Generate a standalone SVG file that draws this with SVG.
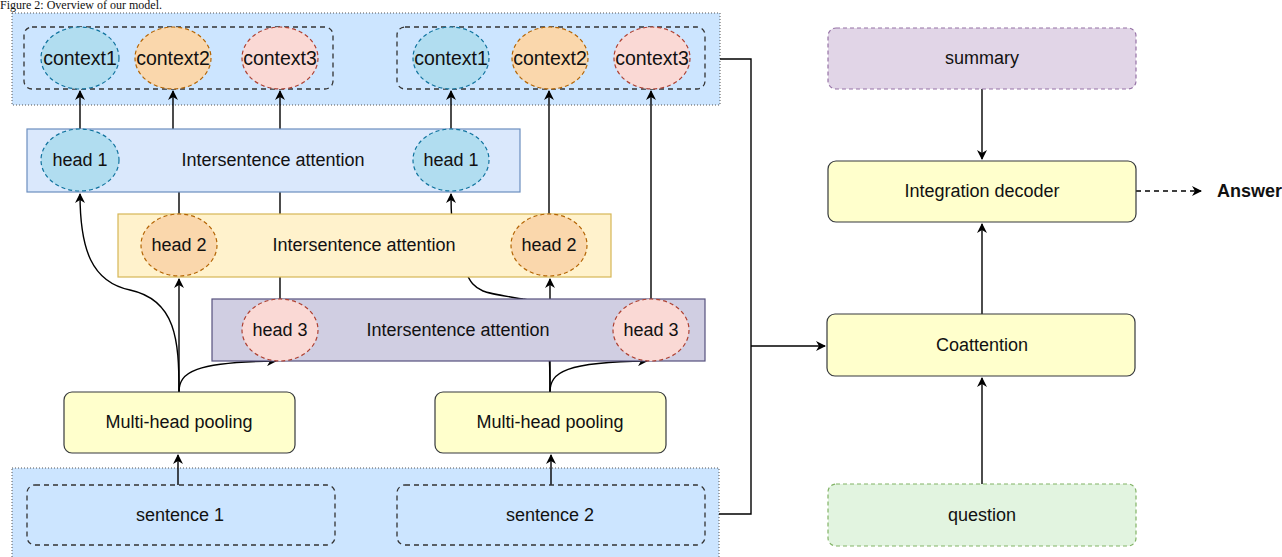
<svg xmlns="http://www.w3.org/2000/svg" width="1282" height="557" viewBox="0 0 1282 557">
<defs>
<marker id="ah" viewBox="0 0 10 10" refX="9" refY="5" markerWidth="10" markerHeight="10" markerUnits="userSpaceOnUse" orient="auto">
<path d="M0,0 L10,5 L0,10 L3,5 Z" fill="#000"/>
</marker>
<style>
text{font-family:"Liberation Sans",Arial,Helvetica,sans-serif;font-size:18px;fill:#111;text-anchor:middle}
.ctx{font-size:19.5px}
.cont{fill:#cce5ff;stroke:#555;stroke-width:1;stroke-dasharray:1 2}
.grp{fill:none;stroke:#333;stroke-width:1.3;stroke-dasharray:5 4}
.e1{fill:#b1ddf0;stroke:#10739e;stroke-width:1.2;stroke-dasharray:4 3}
.e2{fill:#fad7ac;stroke:#b46504;stroke-width:1.2;stroke-dasharray:4 3}
.e3{fill:#fad9d5;stroke:#ae4132;stroke-width:1.2;stroke-dasharray:4 3}
.b1{fill:#dae8fc;stroke:#6c8ebf;stroke-width:1.2}
.b2{fill:#fff2cc;stroke:#d6b656;stroke-width:1.2}
.b3{fill:#d0cee2;stroke:#56517e;stroke-width:1.2}
.y{fill:#ffffcc;stroke:#36393d;stroke-width:1.2}
.c{fill:none;stroke:#000;stroke-width:1.4}
</style>
</defs>
<text x="0" y="9" style="font-family:'Liberation Serif','Times New Roman',serif;font-size:12px;text-anchor:start">Figure 2: Overview of our model.</text>

<g id="context-container">
<rect class="cont" x="12" y="13" width="708" height="92"/>
</g>
<g id="sentence-container"><rect class="cont" x="12" y="468" width="707" height="95"/></g>

<g id="connectors">
<path class="c" d="M80,129 V91" marker-end="url(#ah)"/>
<path class="c" d="M179,214 V160 H173 V91" marker-end="url(#ah)"/>
<path class="c" d="M280,299 V91" marker-end="url(#ah)"/>
<path class="c" d="M451,129 V91" marker-end="url(#ah)"/>
<path class="c" d="M549,214 V91" marker-end="url(#ah)"/>
<path class="c" d="M651,299 L651,91" marker-end="url(#ah)"/>
<path class="c" d="M179,392 C179,340 176,300 130,290 C92,282 80,250 80,194" marker-end="url(#ah)"/>
<path class="c" d="M179,392 V279" marker-end="url(#ah)"/>
<path class="c" d="M179,392 C179,372 195,362 276,361" marker-end="url(#ah)"/>
<path class="c" d="M550,392 V279" marker-end="url(#ah)"/>
<path class="c" d="M550,392 C550,372 566,362 647,361" marker-end="url(#ah)"/>
<path class="c" d="M550,392 C550,320 545,302 523,299 C505,296 490,294 483,291 C474,287 470,282 466,272 C455,250 451,235 451,194" marker-end="url(#ah)"/>
<path class="c" d="M178,485 V455" marker-end="url(#ah)"/>
<path class="c" d="M551,485 V455" marker-end="url(#ah)"/>
<path class="c" d="M720,59 H751 V514 H719"/>
<path class="c" d="M751,346 H825" marker-end="url(#ah)"/>
<path class="c" d="M982,484 V378" marker-end="url(#ah)"/>
<path class="c" d="M982,314 V224" marker-end="url(#ah)"/>
<path class="c" d="M982,89 V159" marker-end="url(#ah)"/>
<path class="c" d="M1136,191 H1201" stroke-dasharray="5 4" marker-end="url(#ah)"/>
</g>

<g id="context-group-1">
<rect class="grp" x="24" y="27" width="309" height="62" rx="8"/>
</g>
<g id="context-group-2">
<rect class="grp" x="397" y="27" width="308" height="62" rx="8"/>
</g>
<g id="context1-a"><ellipse class="e1" cx="80" cy="58" rx="39" ry="31"/><text class="ctx" x="80" y="65">context1</text></g>
<g id="context2-a"><ellipse class="e2" cx="173" cy="58" rx="38" ry="31"/><text class="ctx" x="173" y="65">context2</text></g>
<g id="context3-a"><ellipse class="e3" cx="280" cy="58" rx="38" ry="31"/><text class="ctx" x="280" y="65">context3</text></g>
<g id="context1-b"><ellipse class="e1" cx="451" cy="58" rx="38" ry="31"/><text class="ctx" x="451" y="65">context1</text></g>
<g id="context2-b"><ellipse class="e2" cx="550" cy="58" rx="38" ry="31"/><text class="ctx" x="550" y="65">context2</text></g>
<g id="context3-b"><ellipse class="e3" cx="652" cy="58" rx="38" ry="31"/><text class="ctx" x="652" y="65">context3</text></g>

<g id="attention-1">
<rect class="b1" x="27" y="129" width="493" height="63"/>
<text x="273" y="166">Intersentence attention</text>
</g>
<g id="head1-a"><ellipse class="e1" cx="80" cy="160" rx="39" ry="31"/><text x="80" y="166">head 1</text></g>
<g id="head1-b"><ellipse class="e1" cx="451" cy="160" rx="38" ry="31"/><text x="451" y="166">head 1</text></g>

<g id="attention-2">
<rect class="b2" x="118" y="214" width="493" height="63"/>
<text x="364" y="251">Intersentence attention</text>
</g>
<g id="head2-a"><ellipse class="e2" cx="179" cy="245" rx="38" ry="31"/><text x="179" y="251">head 2</text></g>
<g id="head2-b"><ellipse class="e2" cx="549" cy="245" rx="38" ry="31"/><text x="549" y="251">head 2</text></g>

<g id="attention-3">
<rect class="b3" x="212" y="299" width="493" height="62"/>
<text x="458" y="336">Intersentence attention</text>
</g>
<g id="head3-a"><ellipse class="e3" cx="280" cy="330" rx="38" ry="31"/><text x="280" y="336">head 3</text></g>
<g id="head3-b"><ellipse class="e3" cx="651" cy="330" rx="38" ry="31"/><text x="651" y="336">head 3</text></g>

<g id="pooling-1"><rect class="y" x="64" y="392" width="231" height="61" rx="8"/><text x="179" y="428">Multi-head pooling</text></g>
<g id="pooling-2"><rect class="y" x="435" y="392" width="231" height="61" rx="8"/><text x="550" y="428">Multi-head pooling</text></g>

<g id="sentence-1"><rect class="grp" x="27" y="485" width="308" height="60" rx="8"/><text x="180" y="521">sentence 1</text></g>
<g id="sentence-2"><rect class="grp" x="397" y="485" width="308" height="60" rx="8"/><text x="550" y="521">sentence 2</text></g>

<g id="summary"><rect x="828" y="28" width="308" height="61" rx="8" fill="#e1d5e7" stroke="#9673a6" stroke-width="1.2" stroke-dasharray="4 3"/><text x="982" y="64">summary</text></g>
<g id="decoder"><rect class="y" x="828" y="161" width="308" height="61" rx="8"/><text x="982" y="197">Integration decoder</text></g>
<g id="answer"><text x="1217" y="197" style="text-anchor:start;font-weight:bold">Answer</text></g>
<g id="coattention"><rect class="y" x="827" y="314" width="308" height="62" rx="8"/><text x="982" y="351">Coattention</text></g>
<g id="question"><rect x="828" y="484" width="308" height="62" rx="8" fill="#e2f4e0" stroke="#82b366" stroke-width="1.2" stroke-dasharray="4 3"/><text x="982" y="521">question</text></g>
</svg>
